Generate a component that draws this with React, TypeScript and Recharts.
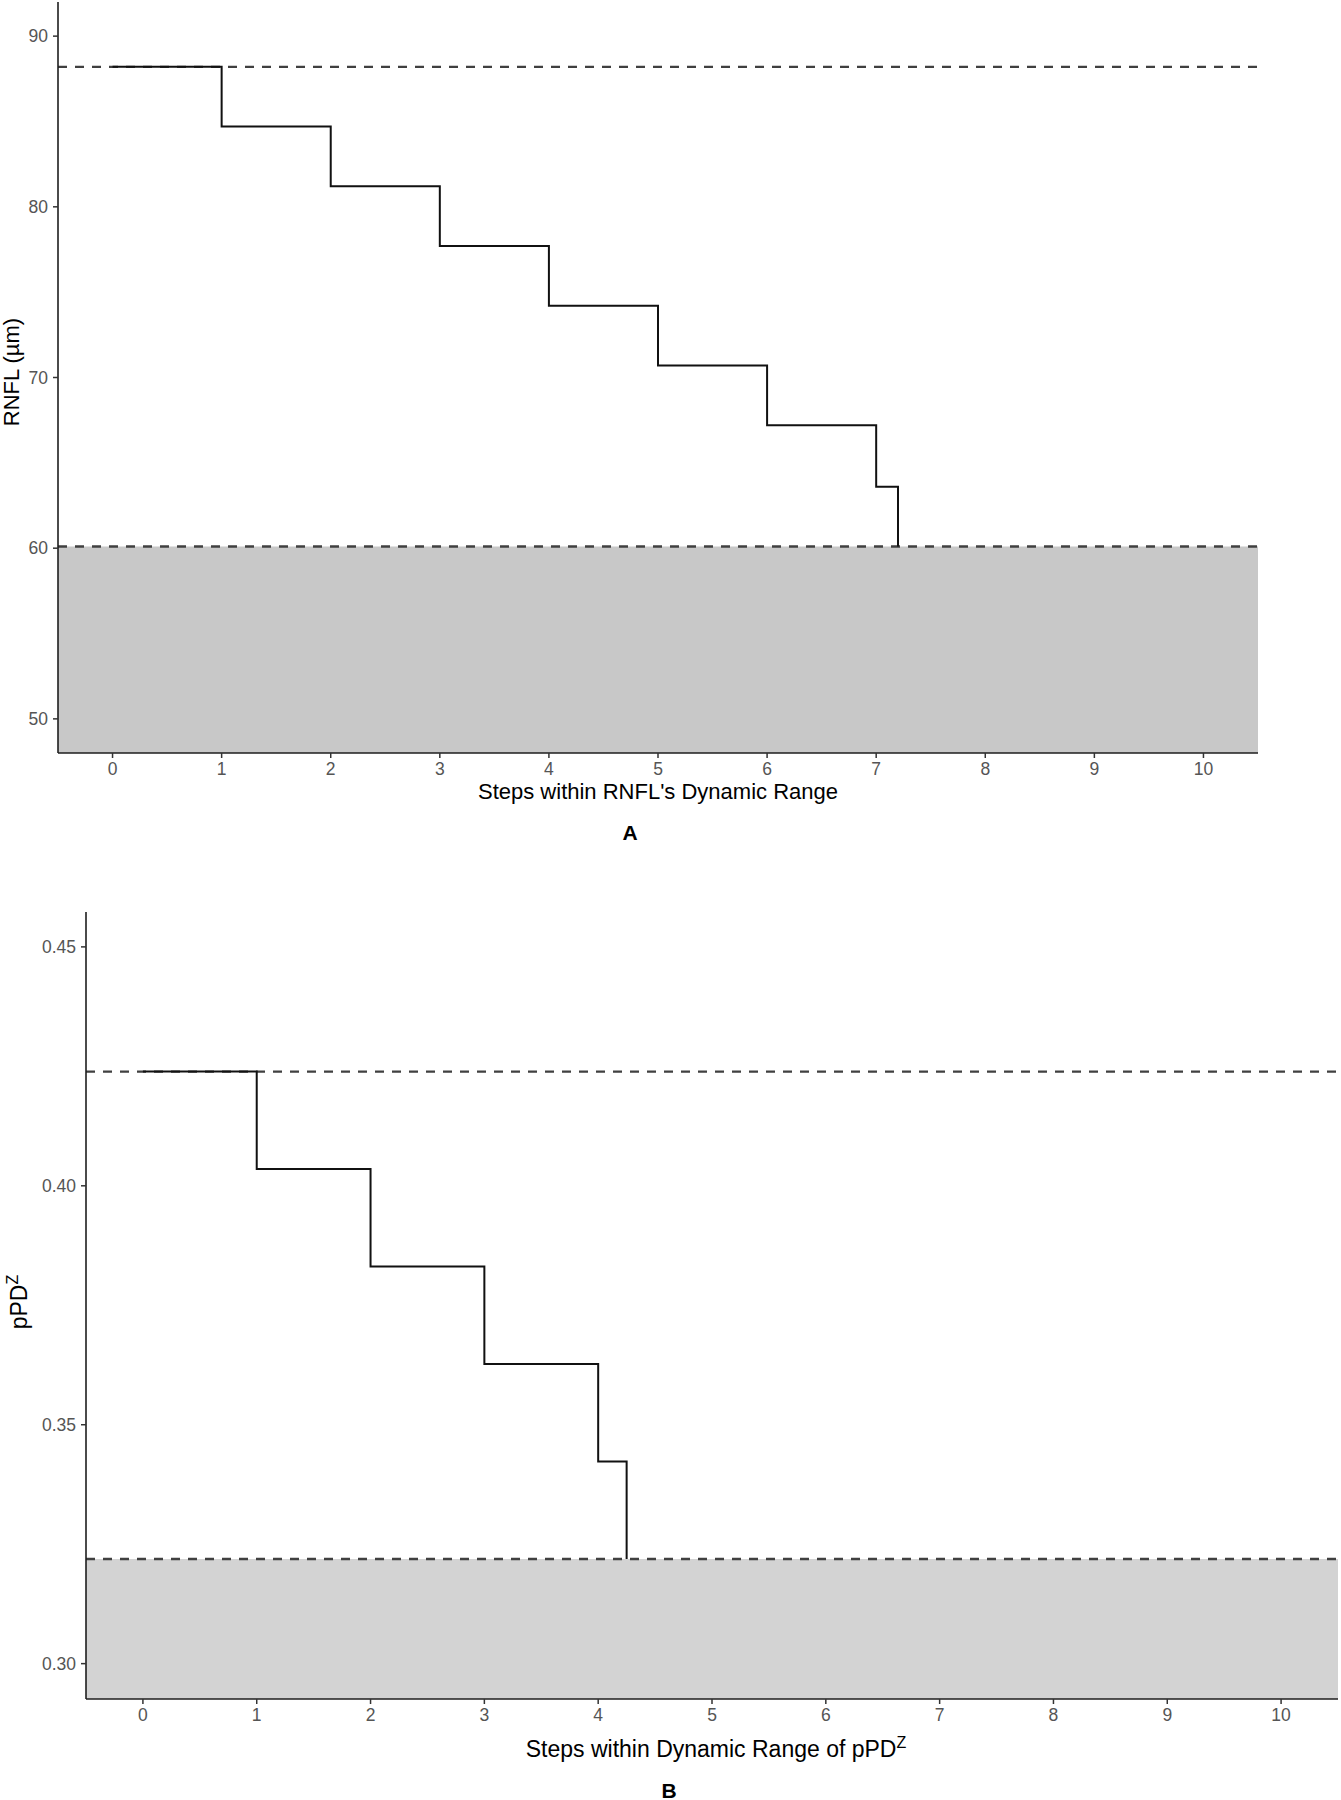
import React from 'react';
import {
  ComposedChart,
  Line,
  XAxis,
  YAxis,
  ReferenceLine,
  ReferenceArea,
} from 'recharts';

// panel A: RNFL steps
const stepsA = [0, 1, 2, 3, 4, 5, 6, 7, 7.2];
const rnflValues = [88.2, 84.7, 81.2, 77.7, 74.2, 70.7, 67.2, 63.6, 60.1];
const rnflUpper = 88.2;
const rnflLower = 60.1;
const rnflTicks = [50, 60, 70, 80, 90];

// panel B: pPD^Z steps
const stepsB = [0, 1, 2, 3, 4, 4.25];
const ppdzValues = [0.4239, 0.4035, 0.3831, 0.3627, 0.3423, 0.3219];
const ppdzUpper = 0.4239;
const ppdzLower = 0.3219;
const ppdzTicks = [0.3, 0.35, 0.4, 0.45];

const stepTicks = [0, 1, 2, 3, 4, 5, 6, 7, 8, 9, 10];

const FONT = '"Liberation Sans", Arial, Helvetica, sans-serif';
const tickStyle = { fill: '#555', fontSize: 17.5, fontFamily: FONT };
const axisLine = { stroke: '#1e1e1e', strokeWidth: 1.6 };
const tickLine = { stroke: '#333', strokeWidth: 1.5 };
const dashed = { stroke: '#404040', strokeWidth: 2.4, strokeDasharray: '9 8' };

const dataA = stepsA.map((x, i) => ({ x, y: rnflValues[i] }));
const dataB = stepsB.map((x, i) => ({ x, y: ppdzValues[i] }));

const titleStyle: React.CSSProperties = {
  position: 'absolute',
  fontFamily: FONT,
  fontSize: 22,
  color: '#000',
  whiteSpace: 'nowrap',
  lineHeight: 1,
};

function Title({ x, y, rotate, bold, size, children }: any) {
  return (
    <div
      style={{
        ...titleStyle,
        left: x,
        top: y,
        fontSize: size || 22,
        fontWeight: bold ? 700 : 400,
        transform: `translate(-50%, -50%)${rotate ? ' rotate(-90deg)' : ''}`,
      }}
    >
      {children}
    </div>
  );
}

export default function App() {
  return (
    <div
      style={{
        position: 'absolute',
        left: 0,
        top: 0,
        width: 1341,
        height: 1800,
        background: '#fff',
        fontFamily: FONT,
      }}
    >
      <div style={{ position: 'absolute', left: 0, top: 0 }}>
        <ComposedChart
          width={1341}
          height={860}
          data={dataA}
          margin={{ top: 2, right: 83, bottom: 77, left: 0 }}
        >
          <XAxis
            type="number"
            dataKey="x"
            domain={[-0.5, 10.5]}
            ticks={stepTicks}
            interval={0}
            allowDataOverflow
            height={30}
            tick={tickStyle}
            axisLine={axisLine}
            tickLine={tickLine}
            tickSize={5}
            tickMargin={5}
          />
          <YAxis
            type="number"
            domain={[48, 92]}
            ticks={rnflTicks}
            interval={0}
            allowDataOverflow
            width={58}
            tick={tickStyle}
            axisLine={axisLine}
            tickLine={tickLine}
            tickSize={5}
            tickMargin={5}
          />
          <ReferenceArea
            x1={-0.5}
            x2={10.5}
            y1={48}
            y2={rnflLower}
            fill="#c8c8c8"
            fillOpacity={1}
            stroke="none"
          />
          <ReferenceLine y={rnflUpper} {...dashed} />
          <ReferenceLine y={rnflLower} {...dashed} />
          <Line
            type="stepAfter"
            dataKey="y"
            stroke="#111"
            strokeWidth={2}
            dot={false}
            activeDot={false}
            isAnimationActive={false}
          />
        </ComposedChart>
      </div>

      <Title x={658} y={792}>Steps within RNFL's Dynamic Range</Title>
      <Title x={630} y={832} bold size={21}>A</Title>
      <Title x={12} y={372} rotate>RNFL (µm)</Title>

      <div style={{ position: 'absolute', left: 0, top: 860 }}>
        <ComposedChart
          width={1341}
          height={940}
          data={dataB}
          margin={{ top: 52, right: 3, bottom: 71, left: 0 }}
        >
          <XAxis
            type="number"
            dataKey="x"
            domain={[-0.5, 10.5]}
            ticks={stepTicks}
            interval={0}
            allowDataOverflow
            height={30}
            tick={tickStyle}
            axisLine={axisLine}
            tickLine={tickLine}
            tickSize={5}
            tickMargin={5}
          />
          <YAxis
            type="number"
            domain={[0.2926, 0.4573]}
            ticks={ppdzTicks}
            interval={0}
            allowDataOverflow
            width={86}
            tick={tickStyle}
            tickFormatter={(v: number) => v.toFixed(2)}
            axisLine={axisLine}
            tickLine={tickLine}
            tickSize={5}
            tickMargin={5}
          />
          <ReferenceArea
            x1={-0.5}
            x2={10.5}
            y1={0.2926}
            y2={ppdzLower}
            fill="#d3d3d3"
            fillOpacity={1}
            stroke="none"
          />
          <ReferenceLine y={ppdzUpper} {...dashed} />
          <ReferenceLine y={ppdzLower} {...dashed} />
          <Line
            type="stepAfter"
            dataKey="y"
            stroke="#111"
            strokeWidth={2}
            dot={false}
            activeDot={false}
            isAnimationActive={false}
          />
        </ComposedChart>
      </div>

      <Title x={716} y={1748} size={23}>
        Steps within Dynamic Range of pPD<sup style={{ fontSize: 16, verticalAlign: 9 }}>Z</sup>
      </Title>
      <Title x={669} y={1790} bold size={21}>B</Title>
      <Title x={18} y={1302} rotate size={23}>
        pPD<sup style={{ fontSize: 16, verticalAlign: 9 }}>Z</sup>
      </Title>
    </div>
  );
}
